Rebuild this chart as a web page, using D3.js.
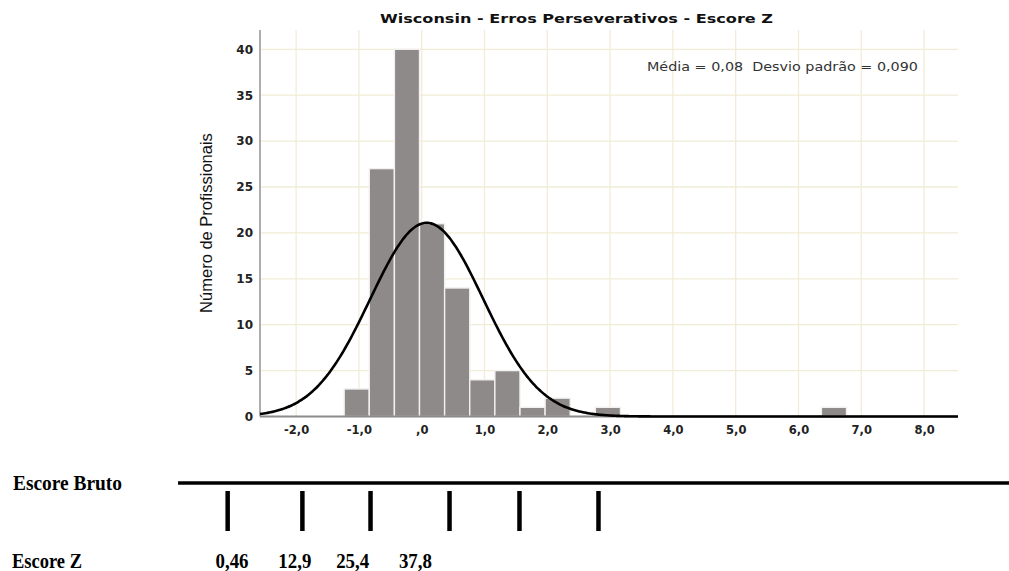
<!DOCTYPE html>
<html><head><meta charset="utf-8">
<script src="https://cdn.jsdelivr.net/npm/d3@7"></script>
<style>html,body{margin:0;padding:0;background:#fff;}svg{display:block;}</style>
</head><body>
<svg id="c" width="1009" height="571"></svg>
<script>
// ---- data ----
const binStart = -1.235;
const binWidth = 0.4;
const counts = [3, 27, 40, 21, 14, 4, 5, 1, 2, 0, 1, 0, 0, 0, 0, 0, 0, 0, 0, 1];
const meanZ = 0.08, sdZ = 0.9, nTotal = 119;
const xTicks = [-2, -1, 0, 1, 2, 3, 4, 5, 6, 7, 8];
const xTickLabels = ["-2,0", "-1,0", ",0", "1,0", "2,0", "3,0", "4,0", "5,0", "6,0", "7,0", "8,0"];
const yTicks = [0, 5, 10, 15, 20, 25, 30, 35, 40];
const title = "Wisconsin - Erros Perseverativos - Escore Z";
const statsText = "Média = 0,08  Desvio padrão = 0,090";
const yLabel = "Número de Profissionais";
// bottom ruler (positions in z-score units)
const rulerTicksZ = [-3.09, -1.90, -0.815, 0.443, 1.557, 2.815];
const rulerLabelsZ = [-3.02, -2.02, -1.10, -0.10];
const rulerLabels = ["0,46", "12,9", "25,4", "37,8"];
const rulerExtentZ = [-3.88, 9.4];

const svg = d3.select("#c");
const x = d3.scaleLinear().domain([-2.575, 8.54]).range([260, 958]);
const y = d3.scaleLinear().domain([0, 42.1]).range([416.5, 30]);

// grid
const g = svg.append("g");
g.selectAll("line.v").data(xTicks).join("line")
  .attr("x1", d => x(d)).attr("x2", d => x(d)).attr("y1", y(42.1)).attr("y2", y(0))
  .attr("stroke", "#f2ecd6").attr("stroke-width", 1.3);
g.selectAll("line.h").data(yTicks.filter(d => d > 0)).join("line")
  .attr("x1", x.range()[0]).attr("x2", x.range()[1]).attr("y1", d => y(d)).attr("y2", d => y(d))
  .attr("stroke", "#f2ecd6").attr("stroke-width", 1.3);

// bars
const bins = counts.map((c, i) => ({x0: binStart + i * binWidth, x1: binStart + (i + 1) * binWidth, c}));
svg.append("g").selectAll("rect").data(bins.filter(b => b.c > 0)).join("rect")
  .attr("x", d => x(d.x0)).attr("width", d => x(d.x1) - x(d.x0))
  .attr("y", d => y(d.c)).attr("height", d => y(0) - y(d.c))
  .attr("fill", "#8e8a89").attr("stroke", "#f2f0f0").attr("stroke-width", 1.4);

// axes lines
svg.append("line").attr("x1", x.range()[0]).attr("x2", x.range()[0]).attr("y1", y(42.1)).attr("y2", y(0))
  .attr("stroke", "#9a9a9a").attr("stroke-width", 1.6);
svg.append("line").attr("x1", x.range()[0]).attr("x2", x.range()[1]).attr("y1", y(0)).attr("y2", y(0))
  .attr("stroke", "#8a8a8a").attr("stroke-width", 2);

// normal curve
const pdf = v => nTotal * binWidth / (sdZ * Math.sqrt(2 * Math.PI)) * Math.exp(-0.5 * ((v - meanZ) / sdZ) ** 2);
const xs = d3.range(0, 401).map(i => x.domain()[0] + (x.domain()[1] - x.domain()[0]) * i / 400);
svg.append("path").datum(xs)
  .attr("d", d3.line().x(d => x(d)).y(d => y(pdf(d))).curve(d3.curveBasis))
  .attr("fill", "none").attr("stroke", "#000").attr("stroke-width", 2.6);

// x tick labels
const xAxis = d3.axisBottom(x).tickValues(xTicks).tickFormat((d, i) => xTickLabels[i]).tickSize(0).tickPadding(9);
const xa = svg.append("g").attr("transform", `translate(0,${y(0)})`).call(xAxis);
xa.select(".domain").remove();
xa.selectAll("text").attr("font-family", "DejaVu Sans").attr("font-weight", "bold").attr("font-size", 11.5).attr("fill", "#222");

// y tick labels
const yAxis = d3.axisLeft(y).tickValues(yTicks).tickSize(0).tickPadding(7);
const ya = svg.append("g").attr("transform", `translate(${x.range()[0]},0)`).call(yAxis);
ya.select(".domain").remove();
ya.selectAll("text").attr("font-family", "DejaVu Sans").attr("font-weight", "bold").attr("font-size", 12).attr("fill", "#222");

// title
svg.append("text").attr("x", 576.5).attr("y", 23).attr("text-anchor", "middle")
  .attr("font-family", "DejaVu Sans").attr("font-weight", "bold").attr("font-size", 13).attr("fill", "#111")
  .attr("textLength", 393).attr("lengthAdjust", "spacingAndGlyphs").text(title);
// stats
svg.append("text").attr("x", 647).attr("y", 71).style("white-space", "pre")
  .attr("font-family", "DejaVu Sans").attr("font-size", 12.5).attr("fill", "#333")
  .attr("textLength", 271).attr("lengthAdjust", "spacingAndGlyphs").text(statsText);
// y label
svg.append("text").attr("transform", "translate(212,223) rotate(-90)").attr("text-anchor", "middle")
  .attr("font-family", "Liberation Sans").attr("font-size", 16.5).attr("fill", "#111").text(yLabel);

// bottom ruler
const serif = "Liberation Serif";
svg.append("text").attr("x", 13).attr("y", 490).attr("font-family", serif).attr("font-weight", "bold")
  .attr("font-size", 20).attr("fill", "#000").attr("textLength", 109).attr("lengthAdjust", "spacingAndGlyphs").text("Escore Bruto");
svg.append("text").attr("x", 12).attr("y", 568).attr("font-family", serif).attr("font-weight", "bold")
  .attr("font-size", 20).attr("fill", "#000").attr("textLength", 70).attr("lengthAdjust", "spacingAndGlyphs").text("Escore Z");
svg.append("line").attr("x1", x(rulerExtentZ[0])).attr("x2", x(rulerExtentZ[1])).attr("y1", 483).attr("y2", 483)
  .attr("stroke", "#000").attr("stroke-width", 3.5);
svg.append("g").selectAll("line").data(rulerTicksZ).join("line")
  .attr("x1", d => x(d)).attr("x2", d => x(d)).attr("y1", 491).attr("y2", 531)
  .attr("stroke", "#000").attr("stroke-width", 4.5);
svg.append("g").selectAll("text").data(rulerLabelsZ).join("text")
  .attr("x", d => x(d)).attr("y", 568).attr("text-anchor", "middle")
  .attr("font-family", serif).attr("font-weight", "bold").attr("font-size", 20).attr("fill", "#000")
  .attr("textLength", 33).attr("lengthAdjust", "spacingAndGlyphs")
  .text((d, i) => rulerLabels[i]);
</script>
</body></html>
